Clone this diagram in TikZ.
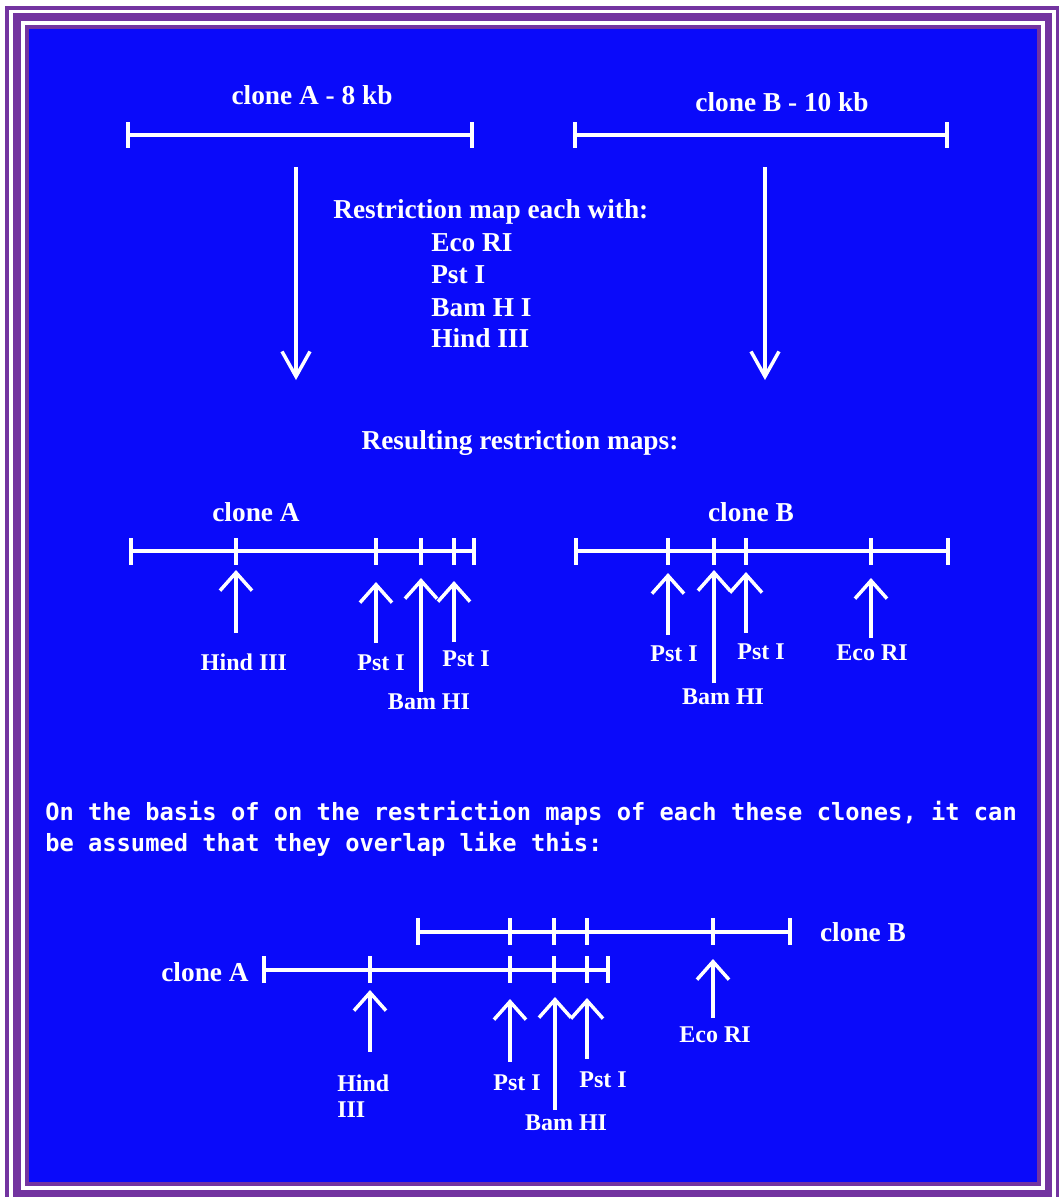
\documentclass[tikz,border=0pt]{standalone}
\usepackage{fontspec}
\setmainfont{Liberation Serif}
\newfontfamily\pixfont{DejaVu Sans Mono}
\usetikzlibrary{arrows.meta}
\definecolor{bgblue}{RGB}{10,10,250}
\definecolor{framepurple}{RGB}{115,52,160}
\begin{document}
\begin{tikzpicture}[x=0.75pt,y=-0.75pt,
  bar/.style={draw=white,line width=2.6pt},
  uparrow/.style={draw=white,line width=2.6pt,-{Straight Barb[length=13.5pt,width=24pt]}},
  downarrow/.style={draw=white,line width=2.6pt,-{Straight Barb[length=18.75pt,width=21pt]}},
  lab/.style={text=white,font=\bfseries\fontsize{18}{19.5}\selectfont,inner sep=0pt},
  head/.style={text=white,font=\bfseries\fontsize{20.5}{24}\selectfont,inner sep=0pt},
  para/.style={text=white,font=\pixfont\bfseries\fontsize{17.8}{23}\selectfont,inner sep=0pt,anchor=base west}]

\clip (0,0) rectangle (1059,1197);
% frame
\fill[white] (0,0) rectangle (1059,1197);
\fill[framepurple] (5,6) rectangle (1060,1206);
\fill[white] (9,10) rectangle (1056,1202);
\fill[framepurple] (13,13) rectangle (1052,1198);
\fill[white] (21,21) rectangle (1045,1190);
\fill[framepurple] (25,25) rectangle (1041,1186);
\fill[bgblue] (29,29) rectangle (1037,1182);

% ---------- top: clones ----------
\node[head] (tA) at (312,95) {clone A - 8 kb};
\node[head] (tB) at (782,102) {clone B - 10 kb};
\coordinate (tAl) at (128,135); \coordinate (tAr) at (472,135);
\coordinate (tBl) at (575,135); \coordinate (tBr) at (947,135);
\draw[bar] (tAl) -- (tAr);
\draw[bar] (tBl) -- (tBr);
\foreach \x in {128,472,575,947} \draw[bar] (\x,122) -- (\x,148);

\coordinate (dA1) at (296,167); \coordinate (dA2) at (296,380);
\coordinate (dB1) at (765,167); \coordinate (dB2) at (765,380);
\draw[downarrow] (dA1) -- (dA2);
\draw[downarrow] (dB1) -- (dB2);

\node[head,anchor=west] (rm) at (333,212) {Restriction map each with:};
\node[head,anchor=west] (e1) at (431,243) {Eco RI};
\node[head,anchor=west] (e2) at (431,275) {Pst I};
\node[head,anchor=west] (e3) at (431,308) {Bam H I};
\node[head,anchor=west] (e4) at (431,338) {Hind III};

\node[head] (res) at (520,443) {Resulting restriction maps:};

% ---------- map A ----------
\node[head] (mA) at (256,512) {clone A};
\coordinate (mAl) at (131,551); \coordinate (mAr) at (474,551);
\draw[bar] (mAl) -- (mAr);
\foreach \x in {131,236,376,421,454,474} \draw[bar] (\x,538) -- (\x,565);
\coordinate (aH1) at (236,633); \coordinate (aH2) at (236,570);
\coordinate (aP1) at (376,643); \coordinate (aP2) at (376,582);
\coordinate (aB1) at (421,692); \coordinate (aB2) at (421,578);
\coordinate (aQ1) at (454,642); \coordinate (aQ2) at (454,581);
\draw[uparrow] (aH1) -- (aH2);
\draw[uparrow] (aP1) -- (aP2);
\draw[uparrow] (aB1) -- (aB2);
\draw[uparrow] (aQ1) -- (aQ2);
\node[lab] (laH) at (244,662) {Hind III};
\node[lab] (laP) at (381,663) {Pst I};
\node[lab] (laQ) at (466,659) {Pst I};
\node[lab] (laB) at (429,702) {Bam HI};

% ---------- map B ----------
\node[head] (mB) at (751,512) {clone B};
\coordinate (mBl) at (576,551); \coordinate (mBr) at (948,551);
\draw[bar] (mBl) -- (mBr);
\foreach \x in {576,668,714,746,871,948} \draw[bar] (\x,538) -- (\x,565);
\coordinate (bP1) at (668,635); \coordinate (bP2) at (668,573);
\coordinate (bB1) at (714,683); \coordinate (bB2) at (714,570);
\coordinate (bQ1) at (746,633); \coordinate (bQ2) at (746,572);
\coordinate (bE1) at (871,638); \coordinate (bE2) at (871,578);
\draw[uparrow] (bP1) -- (bP2);
\draw[uparrow] (bB1) -- (bB2);
\draw[uparrow] (bQ1) -- (bQ2);
\draw[uparrow] (bE1) -- (bE2);
\node[lab] (lbP) at (674,654) {Pst I};
\node[lab] (lbQ) at (761,652) {Pst I};
\node[lab] (lbB) at (723,697) {Bam HI};
\node[lab] (lbE) at (872,653) {Eco RI};

% ---------- paragraph ----------
\node[para] (p1) at (45,820) {On the basis of on the restriction maps of each these clones, it can};
\node[para] (p2) at (45,851) {be assumed that they overlap like this:};

% ---------- overlap ----------
\node[head] (oB) at (863,932) {clone B};
\node[head] (oA) at (205,972) {clone A};
\coordinate (oBl) at (418,932); \coordinate (oBr) at (790,932);
\coordinate (oAl) at (264,970); \coordinate (oAr) at (608,970);
\draw[bar] (oBl) -- (oBr);
\draw[bar] (oAl) -- (oAr);
\foreach \x in {418,510,554,587,713,790} \draw[bar] (\x,918) -- (\x,945);
\foreach \x in {264,370,510,554,587,608} \draw[bar] (\x,956) -- (\x,983);
\coordinate (oH1) at (370,1052); \coordinate (oH2) at (370,990);
\coordinate (oP1) at (510,1062); \coordinate (oP2) at (510,999);
\coordinate (oM1) at (555,1110); \coordinate (oM2) at (555,997);
\coordinate (oQ1) at (587,1059); \coordinate (oQ2) at (587,998);
\coordinate (oE1) at (713,1018); \coordinate (oE2) at (713,959);
\draw[uparrow] (oH1) -- (oH2);
\draw[uparrow] (oP1) -- (oP2);
\draw[uparrow] (oM1) -- (oM2);
\draw[uparrow] (oQ1) -- (oQ2);
\draw[uparrow] (oE1) -- (oE2);
\node[lab,anchor=west,align=left] (loH) at (337,1096) {Hind\\III};
\node[lab] (loP) at (517,1083) {Pst I};
\node[lab] (loQ) at (603,1080) {Pst I};
\node[lab] (loM) at (566,1123) {Bam HI};
\node[lab] (loE) at (715,1035) {Eco RI};
\end{tikzpicture}
\end{document}
